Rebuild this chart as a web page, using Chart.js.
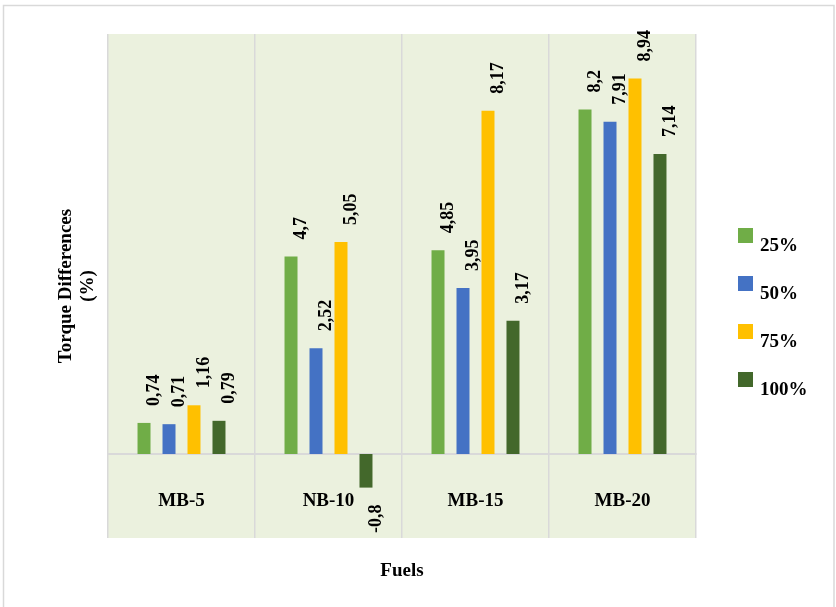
<!DOCTYPE html>
<html>
<head>
<meta charset="utf-8">
<script src="https://cdn.jsdelivr.net/npm/chart.js@4/dist/chart.umd.min.js"></script>
<style>
  html, body { margin: 0; padding: 0; background: #ffffff; }
  #wrap { width: 836px; height: 607px; }
</style>
</head>
<body>
<div id="wrap"><canvas id="c" width="836" height="607"></canvas></div>
<script>
// Fuel blends on the category axis
const fuels = ['MB-5', 'NB-10', 'MB-15', 'MB-20'];

// Torque differences (%) per engine load
const load25 = [0.74, 4.7, 4.85, 8.2];
const load50 = [0.71, 2.52, 3.95, 7.91];
const load75 = [1.16, 5.05, 8.17, 8.94];
const load100 = [0.79, -0.8, 3.17, 7.14];

const seriesLabels = ['25%', '50%', '75%', '100%'];
const seriesColors = ['#70AD47', '#4472C4', '#FFC000', '#43682B'];

const FONT = '"Liberation Serif", "Times New Roman", serif';
const GRID = '#D9D9D9';

// Pale plot background and the thin frame round the whole figure
const backdrop = {
  id: 'backdrop',
  beforeDraw(chart) {
    const { ctx, chartArea: a } = chart;
    ctx.save();
    ctx.fillStyle = '#EBF1DE';
    ctx.fillRect(a.left, a.top, a.right - a.left, a.bottom - a.top);
    ctx.strokeStyle = GRID;
    ctx.lineWidth = 1.5;
    ctx.strokeRect(3.5, 5.5, 830.5, 610);
    ctx.restore();
  }
};

// Vertical value labels with comma decimals
const valueLabels = {
  id: 'valueLabels',
  afterDatasetsDraw(chart) {
    const { ctx } = chart;
    ctx.save();
    ctx.font = 'bold 18px ' + FONT;
    ctx.fillStyle = '#000000';
    ctx.textBaseline = 'middle';
    chart.data.datasets.forEach((ds, i) => {
      const meta = chart.getDatasetMeta(i);
      meta.data.forEach((bar, j) => {
        const v = ds.data[j];
        const txt = String(v).replace('.', ',');
        ctx.save();
        if (v >= 0) {
          ctx.translate(bar.x + 10, bar.y - 17);
          ctx.rotate(-Math.PI / 2);
          ctx.textAlign = 'left';
        } else {
          ctx.translate(bar.x + 10, bar.y + 17);
          ctx.rotate(-Math.PI / 2);
          ctx.textAlign = 'right';
        }
        ctx.fillText(txt, 0, 0);
        ctx.restore();
      });
    });
    ctx.restore();
  }
};

// Legend column on the right: square swatch with its label set slightly lower
const sideLegend = {
  id: 'sideLegend',
  afterDraw(chart) {
    const { ctx, chartArea: a } = chart;
    ctx.save();
    ctx.font = 'bold 19px ' + FONT;
    ctx.textAlign = 'left';
    ctx.textBaseline = 'middle';
    const x0 = a.right + 42;
    const y0 = 228;
    chart.data.datasets.forEach((ds, i) => {
      const y = y0 + i * 48;
      ctx.fillStyle = ds.backgroundColor;
      ctx.fillRect(x0, y, 15, 15);
      ctx.fillStyle = '#000000';
      ctx.fillText(ds.label, x0 + 22, y + 18);
    });
    ctx.restore();
  }
};

const seriesData = [load25, load50, load75, load100];

new Chart(document.getElementById('c'), {
  type: 'bar',
  data: {
    labels: fuels,
    datasets: seriesData.map((d, i) => ({
      label: seriesLabels[i],
      data: d,
      backgroundColor: seriesColors[i],
      categoryPercentage: 0.68,
      barPercentage: 0.52
    }))
  },
  options: {
    responsive: false,
    animation: false,
    layout: { padding: { top: 34, right: 140, left: 0, bottom: 0 } },
    plugins: {
      legend: { display: false },
      tooltip: { enabled: false }
    },
    scales: {
      x: {
        position: { y: 0 },
        grid: { color: GRID, lineWidth: 1.5, drawTicks: false, offset: true },
        border: { display: true, color: GRID, width: 2 },
        ticks: {
          padding: 36,
          color: '#000000',
          font: { family: FONT, size: 19, weight: 'bold' }
        }
      },
      x2: {
        type: 'category',
        labels: fuels,
        position: 'bottom',
        grid: { display: false, drawTicks: false },
        border: { display: false },
        ticks: { display: false },
        title: {
          display: true,
          text: 'Fuels',
          color: '#000000',
          padding: { top: 0, bottom: 25 },
          font: { family: FONT, size: 19, weight: 'bold', lineHeight: 1.16 }
        },
        afterFit(s) { s.height = 69; }
      },
      y: {
        min: -2,
        max: 10,
        grid: { display: false, drawTicks: false },
        border: { display: false },
        ticks: { display: false },
        title: {
          display: true,
          text: ['Torque Differences', '(%)'],
          color: '#000000',
          padding: { top: 55, bottom: 0 },
          font: { family: FONT, size: 19, weight: 'bold', lineHeight: 1.16 }
        },
        afterFit(s) { s.width = 108; }
      }
    }
  },
  plugins: [backdrop, valueLabels, sideLegend]
});
</script>
</body>
</html>
